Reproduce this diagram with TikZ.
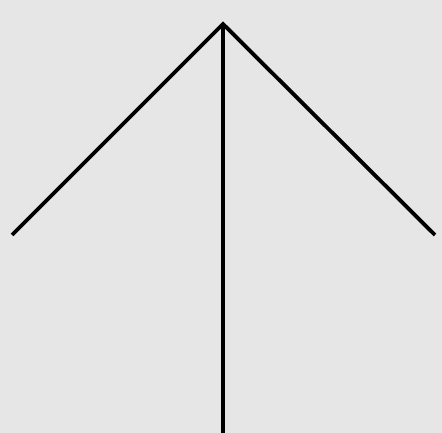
\documentclass[tikz,border=0pt]{standalone}
\usepackage{tikz}
\usetikzlibrary{positioning, calc}
\definecolor{bggray}{HTML}{E6E6E6}

\begin{document}
\begin{tikzpicture}[x=0.01cm, y=0.01cm, line join=miter, line cap=butt]
      \fill[bggray] (0,0) rectangle (442,433);
      \useasboundingbox (0,0) rectangle (442,433);
      \coordinate (Top) at (223,409);
      \coordinate (Left) at (12,198);
      \coordinate (Right) at (435,198);
      \coordinate (Foot) at (223,0);
      \draw[line width=1.1pt] (Left)--(Top)--(Right);
      \draw[line width=1.1pt] (Top)--(Foot);
    \end{tikzpicture}
\end{document}
